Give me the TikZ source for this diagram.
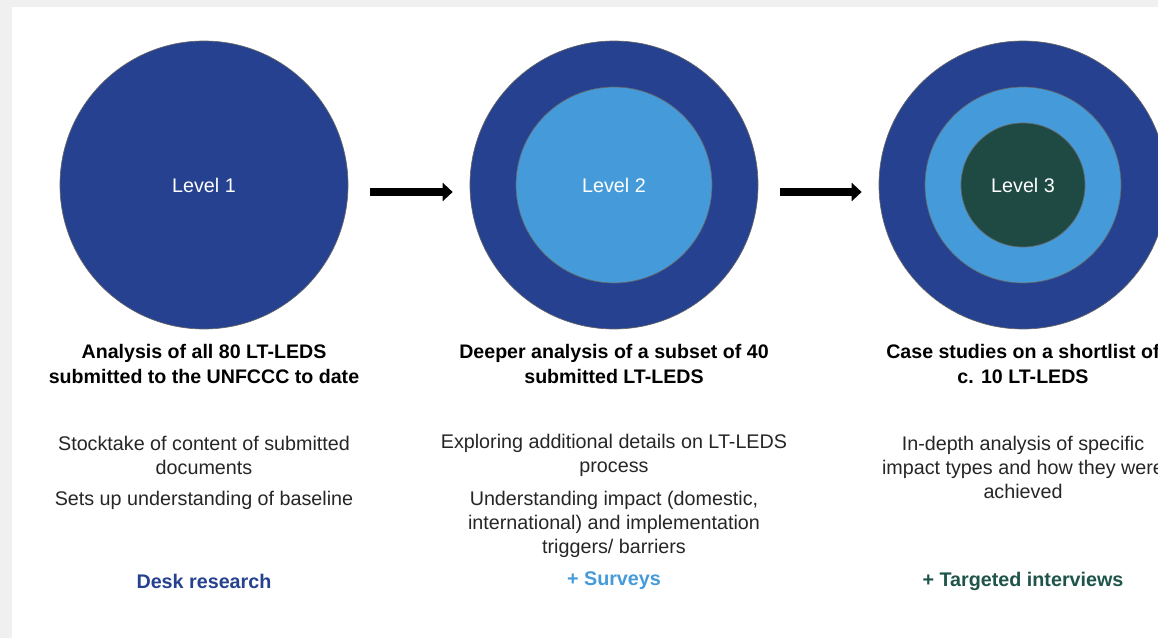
\documentclass[tikz,border=0pt]{standalone}
\usepackage{fontspec}
\setmainfont{Liberation Sans}
\usetikzlibrary{arrows.meta}
\definecolor{dunkelblau}{RGB}{37,65,143}
\definecolor{hellblau}{RGB}{69,155,217}
\definecolor{dunkelgruen}{RGB}{30,74,67}
\definecolor{gruen}{RGB}{31,84,74}
\def\schrift{\fontsize{14.8}{18}\selectfont}
\def\ra{216pt}
\def\rb{147pt}
\def\rc{93pt}

\begin{document}
\begin{tikzpicture}[x=0.75pt,y=-0.75pt,>={Triangle[length=7.5pt,width=13.5pt]},
	kreis/.style={circle,draw=black!60,line width=0.5pt,inner sep=0pt,
		text=white,font=\schrift},
	titel/.style={align=center,font=\bfseries\fontsize{14.7}{18.75}\selectfont},
	absatz/.style={align=center,font=\schrift,text=black!85},
	methode/.style={font=\bfseries\schrift},
	pfeil/.style={->,line width=6pt}]
\useasboundingbox (0,0) rectangle (1158,638);
\fill[color=gray!12] (0,0) rectangle (1158,638);
\fill[color=white] (12,7) rectangle (1158,638);

\node[kreis,fill=dunkelblau,minimum size=\ra] (k1) at (204,185) {Level 1};
\node[kreis,fill=dunkelblau,minimum size=\ra] (k2) at (614,185) {};
\node[kreis,fill=hellblau,minimum size=\rb] (k2i) at (k2) {Level 2};
\node[kreis,fill=dunkelblau,minimum size=\ra] (k3) at (1023,185) {};
\node[kreis,fill=hellblau,minimum size=\rb] (k3m) at (k3) {};
\node[kreis,fill=dunkelgruen,minimum size=\rc] (k3i) at (k3) {Level 3};

\draw[pfeil] ([shift={(22,7)}]k1.east) -- ([shift={(-17,7)}]k2.west);
\draw[pfeil] ([shift={(22,7)}]k2.east) -- ([shift={(-17,7)}]k3.west);

\node[titel] (t1) at (204,364) {Analysis of all 80 LT-LEDS\\submitted to the UNFCCC to date};
\node[titel] (t2) at (614,364) {Deeper analysis of a subset of 40\\submitted LT-LEDS};
\node[titel] (t3) at (1023,364) {Case studies on a shortlist of\\c. 10 LT-LEDS};

\node[absatz] (a1) at (204,455) {Stocktake of content of submitted\\documents};
\node[absatz] (b1) at (204,500) {Sets up understanding of baseline};
\node[absatz] (a2) at (614,455) {Exploring additional details on LT-LEDS\\process};
\node[absatz] (b2) at (614,524) {Understanding impact (domestic,\\international) and implementation\\triggers/ barriers};
\node[absatz] (a3) at (1023,467) {In-depth analysis of specific\\impact types and how they were\\achieved};

\node[methode,text=dunkelblau] (m1) at (204,581) {Desk research};
\node[methode,text=hellblau] (m2) at (614,581) {+ Surveys};
\node[methode,text=gruen] (m3) at (1023,581) {+ Targeted interviews};
\end{tikzpicture}
\end{document}
